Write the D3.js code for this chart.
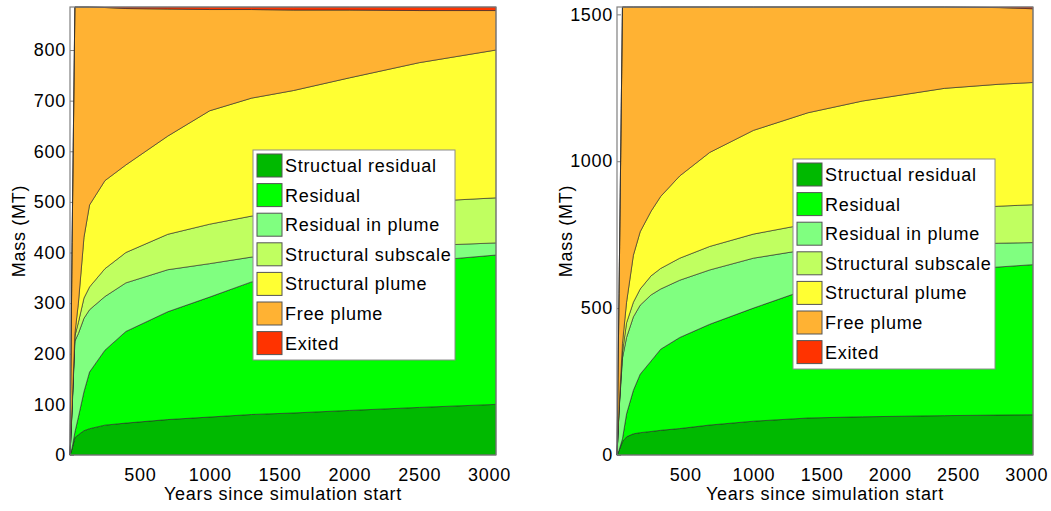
<!DOCTYPE html>
<html>
<head>
<meta charset="utf-8">
<script src="https://cdn.jsdelivr.net/npm/d3@7"></script>
<style>
    body { margin: 0; background: #fff; }
    svg text { font-family: "Liberation Sans", Arial, Helvetica, sans-serif; font-size: 18px; letter-spacing: 0.7px; fill: #000; }
</style>
</head>
<body>
<div id="chart"></div>
<script>

// layer names + colours (bottom to top of the stack)
const layerNames = ["Structual residual", "Residual", "Residual in plume", "Structural subscale",
    "Structural plume", "Free plume", "Exited"];
const layerColors = ["#00b900", "#00ff00", "#80ff80", "#c0ff60", "#ffff33", "#ffb233", "#ff3300"];

const xTicks = [500, 1000, 1500, 2000, 2500, 3000];

// ---- left run (MT per category) ----
const yearsA       = [0, 15, 35, 60, 100, 140, 250, 400, 700, 1000, 1300, 1600, 2000, 2500, 3050];
const structResA   = [0, 12, 34, 40, 48, 52, 59, 63, 70, 75, 80, 83, 88, 94, 100];
const residualA    = [0, 2, 11, 35, 77, 112, 148, 181, 213, 237, 262, 272, 280, 288, 295];
const resPlumeA    = [0, 76, 180, 165, 145, 123, 106, 96, 83, 66, 49, 43, 37, 31, 24];
const subscaleA    = [0, 5, 10, 22, 40, 45, 55, 60, 70, 78, 81, 84, 85, 87, 89];
const structPlumeA = [0, 2, 5, 38, 120, 162, 174, 173, 194, 224, 233, 238, 255, 275, 292];
const freePlumeA   = [0, 323, 645, 585, 455, 391, 342, 309, 251, 200, 175, 159, 134, 103, 78];
const exitedA      = [0, 0, 0, 0, 0, 0, 1, 3, 4, 5, 5, 6, 6, 7, 7];
const yTicksA = [0, 100, 200, 300, 400, 500, 600, 700, 800];

// ---- right run ----
const yearsB       = [0, 15, 40, 70, 120, 170, 250, 320, 460, 680, 1000, 1400, 1800, 2400, 2800, 3050];
const structResB   = [0, 15, 45, 62, 72, 76, 80, 84, 90, 102, 115, 126, 130, 134, 136, 137];
const residualB    = [0, 1, 10, 78, 148, 199, 240, 276, 310, 343, 385, 439, 470, 494, 504, 511];
const resPlumeB    = [0, 134, 275, 260, 250, 235, 225, 205, 195, 185, 170, 135, 110, 89, 81, 75];
const subscaleB    = [0, 5, 20, 50, 50, 55, 65, 70, 75, 80, 82, 87, 100, 118, 126, 129];
const structPlumeB = [0, 5, 30, 70, 160, 195, 220, 245, 280, 320, 353, 378, 395, 413, 415, 416];
const freePlumeB   = [0, 390, 1145, 1005, 845, 765, 695, 645, 575, 495, 420, 360, 320, 277, 261, 251];
const exitedB      = [0, 0, 0, 0, 0, 0, 0, 0, 0, 0, 0, 0, 0, 0, 2, 6];
const yTicksB = [0, 500, 1000, 1500];


/* * * * * * * * * * * * * *
*      class StackVis      *
* * * * * * * * * * * * * */

class StackVis {

    constructor(svg, rect, years, series, yMax, yTicks, legendPos) {
        this.svg = svg;
        this.rect = rect;
        this.years = years;
        this.series = series;
        this.yMax = yMax;
        this.yTicks = yTicks;
        this.legendPos = legendPos;

        this.initVis()
    }

    initVis() {
        let vis = this;

        vis.width = vis.rect.right - vis.rect.left;
        vis.height = vis.rect.bottom - vis.rect.top;

        vis.g = vis.svg.append("g")
            .attr("transform", `translate(${vis.rect.left}, ${vis.rect.top})`);

        vis.x = d3.scaleLinear()
            .domain([0, 3050])
            .range([0, vis.width]);

        vis.y = d3.scaleLinear()
            .domain([0, vis.yMax])
            .range([vis.height, 0]);

        // ticks point inwards, matlab style
        vis.xAxis = d3.axisBottom(vis.x)
            .tickValues(xTicks)
            .tickFormat(d3.format("d"))
            .tickSizeInner(-4)
            .tickSizeOuter(0)
            .tickPadding(13);

        vis.yAxis = d3.axisLeft(vis.y)
            .tickValues(vis.yTicks)
            .tickFormat(d3.format("d"))
            .tickSizeInner(-4)
            .tickSizeOuter(0)
            .tickPadding(4);

        vis.wrangleData();
    }

    wrangleData() {
        let vis = this;

        // one row per output time
        vis.rows = vis.years.map((yr, i) => {
            let row = {year: yr};
            layerNames.forEach((name, k) => row[name] = vis.series[k][i]);
            return row;
        });

        vis.stacked = d3.stack().keys(layerNames)(vis.rows);

        vis.updateVis();
    }

    updateVis() {
        let vis = this;

        vis.g.append("g")
            .attr("class", "x-axis axis")
            .attr("transform", `translate(0, ${vis.height})`)
            .call(vis.xAxis);

        vis.g.append("g")
            .attr("class", "y-axis axis")
            .call(vis.yAxis);

        vis.g.selectAll(".axis .domain").remove();
        vis.g.selectAll(".axis line").attr("stroke", "#808080");
        vis.g.selectAll(".axis text").attr("font-size", null).attr("font-family", null);

        let area = d3.area()
            .x(d => vis.x(d.data.year))
            .y0(d => vis.y(d[0]))
            .y1(d => vis.y(d[1]));

        vis.g.selectAll(".layer")
            .data(vis.stacked)
            .enter()
            .append("path")
            .attr("class", "layer")
            .attr("d", area)
            .attr("fill", (d, i) => layerColors[i])
            .attr("stroke", "#262626")
            .attr("stroke-width", 0.6)
            .attr("stroke-linejoin", "round");

        // axes box
        vis.g.append("rect")
            .attr("x", 0)
            .attr("y", 0)
            .attr("width", vis.width)
            .attr("height", vis.height)
            .attr("fill", "none")
            .attr("stroke", "#808080")
            .attr("stroke-width", 1.2);

        // axis titles
        vis.g.append("text")
            .attr("x", vis.width / 2)
            .attr("y", vis.height + 45)
            .attr("text-anchor", "middle")
            .text("Years since simulation start");

        vis.g.append("text")
            .attr("transform", `translate(${vis.rect.ylabel}, ${vis.height / 2}) rotate(-90)`)
            .attr("text-anchor", "middle")
            .text("Mass (MT)");

        // legend (top row = bottom layer)
        let lg = vis.svg.append("g")
            .attr("transform", `translate(${vis.legendPos.x}, ${vis.legendPos.y})`);

        lg.append("rect")
            .attr("width", 202)
            .attr("height", 210)
            .attr("fill", "#fff")
            .attr("stroke", "#8c8c8c");

        let entry = lg.selectAll(".entry")
            .data(layerNames)
            .enter()
            .append("g")
            .attr("class", "entry")
            .attr("transform", (d, i) => `translate(4, ${4 + i * 29.6})`);

        entry.append("rect")
            .attr("width", 25)
            .attr("height", 23)
            .attr("fill", (d, i) => layerColors[i])
            .attr("stroke", "#555");

        entry.append("text")
            .attr("x", 28)
            .attr("y", 18)
            .text(d => d);
    }
}


let svg = d3.select("#chart").append("svg")
    .attr("width", 1051)
    .attr("height", 511);

let leftVis = new StackVis(svg,
    {left: 70, right: 496, top: 7, bottom: 455, ylabel: -45},
    yearsA,
    [structResA, residualA, resPlumeA, subscaleA, structPlumeA, freePlumeA, exitedA],
    885, yTicksA, {x: 253, y: 150});

let rightVis = new StackVis(svg,
    {left: 617, right: 1033, top: 7, bottom: 455, ylabel: -45},
    yearsB,
    [structResB, residualB, resPlumeB, subscaleB, structPlumeB, freePlumeB, exitedB],
    1525, yTicksB, {x: 793, y: 159});

</script>
</body>
</html>
